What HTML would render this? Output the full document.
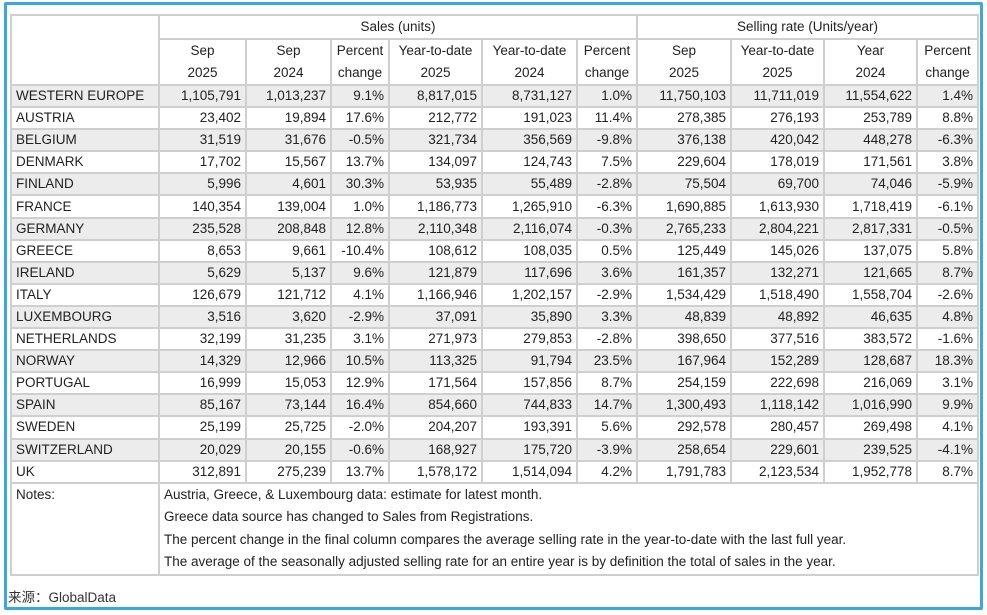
<!DOCTYPE html>
<html><head><meta charset="utf-8"><style>
body{margin:0;width:987px;height:615px;background:#fff;position:relative;overflow:hidden;font-family:"Liberation Sans","Noto Sans CJK SC",sans-serif;}
.frame{position:absolute;left:4px;top:2px;width:973px;height:602px;border:3px solid #3aa8e0;border-radius:2px;}
table{position:absolute;left:10px;top:14px;border-collapse:collapse;table-layout:fixed;font-size:13.5px;color:#222;}
td{border:2px solid #cfcfcf;padding:0 4px;white-space:nowrap;overflow:hidden;text-align:right;height:20.1px;line-height:20px;box-sizing:content-box;}
tr.g td{background:#ececec;}
td.n{text-align:left;}
.h td{text-align:center;line-height:22px;}
.notes td{vertical-align:top;text-align:left;line-height:22.5px;padding-top:0;}
.src{position:absolute;left:8px;top:586px;font-size:13.5px;color:#333;}
</style></head><body>
<div class="frame"></div>
<table>
<colgroup><col style="width:148px"><col style="width:87px"><col style="width:85px"><col style="width:58px"><col style="width:93px"><col style="width:95px"><col style="width:60px"><col style="width:94px"><col style="width:93px"><col style="width:93px"><col style="width:61px"></colgroup>
<tr class="h"><td rowspan="2" style="height:63px"></td><td colspan="6" style="height:20px">Sales (units)</td><td colspan="4">Selling rate (Units/year)</td></tr>
<tr class="h"><td style="height:42px">Sep<br>2025</td><td>Sep<br>2024</td><td>Percent<br>change</td><td>Year-to-date<br>2025</td><td>Year-to-date<br>2024</td><td>Percent<br>change</td><td>Sep<br>2025</td><td>Year-to-date<br>2025</td><td>Year<br>2024</td><td>Percent<br>change</td></tr>
<tr class="g"><td class="n">WESTERN EUROPE</td><td>1,105,791</td><td>1,013,237</td><td>9.1%</td><td>8,817,015</td><td>8,731,127</td><td>1.0%</td><td>11,750,103</td><td>11,711,019</td><td>11,554,622</td><td>1.4%</td></tr>
<tr><td class="n">AUSTRIA</td><td>23,402</td><td>19,894</td><td>17.6%</td><td>212,772</td><td>191,023</td><td>11.4%</td><td>278,385</td><td>276,193</td><td>253,789</td><td>8.8%</td></tr>
<tr class="g"><td class="n">BELGIUM</td><td>31,519</td><td>31,676</td><td>-0.5%</td><td>321,734</td><td>356,569</td><td>-9.8%</td><td>376,138</td><td>420,042</td><td>448,278</td><td>-6.3%</td></tr>
<tr><td class="n">DENMARK</td><td>17,702</td><td>15,567</td><td>13.7%</td><td>134,097</td><td>124,743</td><td>7.5%</td><td>229,604</td><td>178,019</td><td>171,561</td><td>3.8%</td></tr>
<tr class="g"><td class="n">FINLAND</td><td>5,996</td><td>4,601</td><td>30.3%</td><td>53,935</td><td>55,489</td><td>-2.8%</td><td>75,504</td><td>69,700</td><td>74,046</td><td>-5.9%</td></tr>
<tr><td class="n">FRANCE</td><td>140,354</td><td>139,004</td><td>1.0%</td><td>1,186,773</td><td>1,265,910</td><td>-6.3%</td><td>1,690,885</td><td>1,613,930</td><td>1,718,419</td><td>-6.1%</td></tr>
<tr class="g"><td class="n">GERMANY</td><td>235,528</td><td>208,848</td><td>12.8%</td><td>2,110,348</td><td>2,116,074</td><td>-0.3%</td><td>2,765,233</td><td>2,804,221</td><td>2,817,331</td><td>-0.5%</td></tr>
<tr><td class="n">GREECE</td><td>8,653</td><td>9,661</td><td>-10.4%</td><td>108,612</td><td>108,035</td><td>0.5%</td><td>125,449</td><td>145,026</td><td>137,075</td><td>5.8%</td></tr>
<tr class="g"><td class="n">IRELAND</td><td>5,629</td><td>5,137</td><td>9.6%</td><td>121,879</td><td>117,696</td><td>3.6%</td><td>161,357</td><td>132,271</td><td>121,665</td><td>8.7%</td></tr>
<tr><td class="n">ITALY</td><td>126,679</td><td>121,712</td><td>4.1%</td><td>1,166,946</td><td>1,202,157</td><td>-2.9%</td><td>1,534,429</td><td>1,518,490</td><td>1,558,704</td><td>-2.6%</td></tr>
<tr class="g"><td class="n">LUXEMBOURG</td><td>3,516</td><td>3,620</td><td>-2.9%</td><td>37,091</td><td>35,890</td><td>3.3%</td><td>48,839</td><td>48,892</td><td>46,635</td><td>4.8%</td></tr>
<tr><td class="n">NETHERLANDS</td><td>32,199</td><td>31,235</td><td>3.1%</td><td>271,973</td><td>279,853</td><td>-2.8%</td><td>398,650</td><td>377,516</td><td>383,572</td><td>-1.6%</td></tr>
<tr class="g"><td class="n">NORWAY</td><td>14,329</td><td>12,966</td><td>10.5%</td><td>113,325</td><td>91,794</td><td>23.5%</td><td>167,964</td><td>152,289</td><td>128,687</td><td>18.3%</td></tr>
<tr><td class="n">PORTUGAL</td><td>16,999</td><td>15,053</td><td>12.9%</td><td>171,564</td><td>157,856</td><td>8.7%</td><td>254,159</td><td>222,698</td><td>216,069</td><td>3.1%</td></tr>
<tr class="g"><td class="n">SPAIN</td><td>85,167</td><td>73,144</td><td>16.4%</td><td>854,660</td><td>744,833</td><td>14.7%</td><td>1,300,493</td><td>1,118,142</td><td>1,016,990</td><td>9.9%</td></tr>
<tr><td class="n">SWEDEN</td><td>25,199</td><td>25,725</td><td>-2.0%</td><td>204,207</td><td>193,391</td><td>5.6%</td><td>292,578</td><td>280,457</td><td>269,498</td><td>4.1%</td></tr>
<tr class="g"><td class="n">SWITZERLAND</td><td>20,029</td><td>20,155</td><td>-0.6%</td><td>168,927</td><td>175,720</td><td>-3.9%</td><td>258,654</td><td>229,601</td><td>239,525</td><td>-4.1%</td></tr>
<tr><td class="n">UK</td><td>312,891</td><td>275,239</td><td>13.7%</td><td>1,578,172</td><td>1,514,094</td><td>4.2%</td><td>1,791,783</td><td>2,123,534</td><td>1,952,778</td><td>8.7%</td></tr>
<tr class="notes"><td style="height:86px">Notes:</td><td colspan="10" style="border-left:none">Austria, Greece, &amp; Luxembourg data: estimate for latest month.<br>Greece data source has changed to Sales from Registrations.<br>The percent change in the final column compares the average selling rate in the year-to-date with the last full year.<br>The average of the seasonally adjusted selling rate for an entire year is by definition the total of sales in the year.</td></tr>
</table>
<div class="src">来源：GlobalData</div>
</body></html>
